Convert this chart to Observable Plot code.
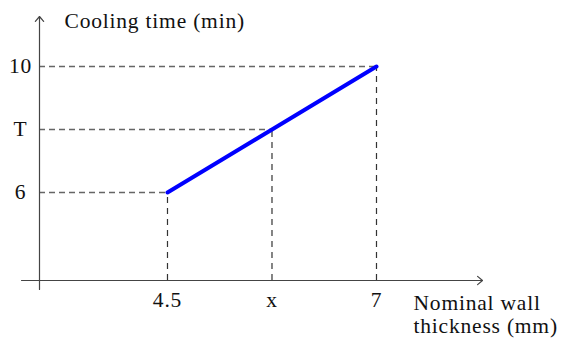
<!DOCTYPE html>
<html>
<head>
<meta charset="utf-8">
<script src="https://cdn.jsdelivr.net/npm/d3@7"></script>
<script src="https://cdn.jsdelivr.net/npm/@observablehq/plot@0.6"></script>
<style>
  html, body { margin: 0; padding: 0; background: #fff; }
  #chart svg { display: block; }
  #chart svg text { letter-spacing: 0.8px; }
</style>
</head>
<body>
<div id="chart"></div>
<script>
// Data
const thickness = [4.5, 5.75, 7];          // nominal wall thickness (mm)
const coolingTime = [6, 8, 10];            // cooling time (min)
const xTickLabels = ["4.5", "x", "7"];
const yTickLabels = ["6", "T", "10"];
const lineThickness = [4.5, 7];
const lineCooling = [6, 10];

// Axis extents (data units)
const xOrigin = 2.969, xStart = 2.754, xEnd = 8.268;
const yOrigin = 3.206, yStart = 2.92, yEnd = 11.587;

const guides = thickness.map((x, i) => ({x, y: coolingTime[i], xl: xTickLabels[i], yl: yTickLabels[i]}));
const line = lineThickness.map((x, i) => ({x, y: lineCooling[i]}));

const font = "Liberation Serif";

const chart = Plot.plot({
  width: 565,
  height: 340,
  marginLeft: 39,
  marginRight: 83,
  marginTop: 16,
  marginBottom: 60,
  style: {fontFamily: font, fontSize: "21.5px", background: "#fff", color: "#111"},
  x: {domain: [xOrigin, xEnd], axis: null},
  y: {domain: [yOrigin, yEnd], axis: null},
  marks: [
    // dashed guides
    Plot.ruleY(guides, {y: "y", x1: xOrigin, x2: "x", stroke: "#666", strokeWidth: 1.3, strokeDasharray: "6,4"}),
    Plot.ruleX(guides, {x: "x", y1: yOrigin, y2: "y", stroke: "#333", strokeWidth: 1.2, strokeDasharray: "6,5"}),
    // axes with arrows
    Plot.arrow([{}], {x1: () => xStart, x2: () => xEnd, y1: () => yOrigin, y2: () => yOrigin, stroke: "#444", strokeWidth: 1.2, headLength: 8, headAngle: 80}),
    Plot.arrow([{}], {x1: () => xOrigin, x2: () => xOrigin, y1: () => yStart, y2: () => yEnd, stroke: "#444", strokeWidth: 1.2, headLength: 8, headAngle: 80}),
    // data line
    Plot.line(line, {x: "x", y: "y", stroke: "#0000ff", strokeWidth: 4}),
    // tick labels
    Plot.text(guides, {y: "y", text: "yl", frameAnchor: "left", dx: -19, textAnchor: "middle", lineAnchor: "middle", fill: "#111"}),
    Plot.text(guides, {x: "x", text: "xl", frameAnchor: "bottom", dy: 20, textAnchor: "middle", lineAnchor: "middle", fill: "#111"}),
    // axis titles
    Plot.text(["Cooling time (min)"], {frameAnchor: "top-left", dx: 25, dy: 5, textAnchor: "start", lineAnchor: "middle", fill: "#111"}),
    Plot.text(["Nominal wall\nthickness (mm)"], {frameAnchor: "bottom-right", dx: -69, dy: 34, textAnchor: "start", lineAnchor: "middle", lineHeight: 1.05, fill: "#111"})
  ]
});
document.getElementById("chart").appendChild(chart);
</script>
</body>
</html>
